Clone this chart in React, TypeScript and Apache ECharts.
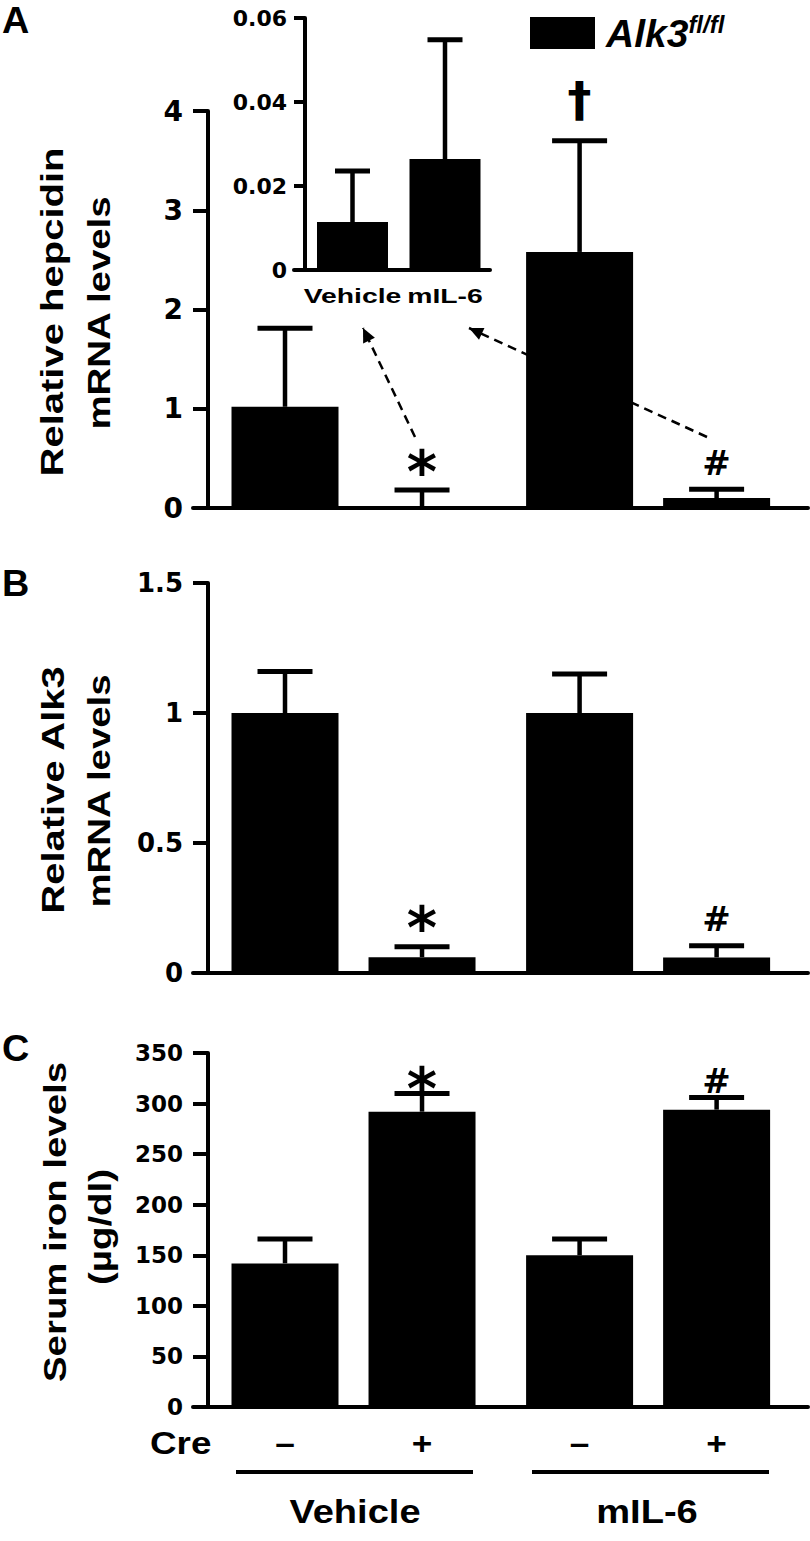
import React, { useEffect, useRef } from 'react';
import * as echarts from 'echarts';

// ---------------- data ----------------
const legendName = 'Alk3';
const creLabels = ['–', '+', '–', '+'];
const groupLabels = ['Vehicle', 'mIL-6'];
const barPos = [1, 2, 3.15, 4.15];

const hepcidinMean = [1.02, 0.011, 2.58, 0.1];
const hepcidinSem = [0.79, 0.17, 1.12, 0.09];
const hepcidinMarks = ['', '*', '†', '#'];

const insetPos = [1, 2];
const insetLabels = ['Vehicle', 'mIL-6'];
const insetMean = [0.0114, 0.0264];
const insetSem = [0.0122, 0.0284];

const alk3Mean = [1.0, 0.061, 1.0, 0.06];
const alk3Sem = [0.16, 0.04, 0.15, 0.045];
const alk3Marks = ['', '*', '', '#'];

const ironMean = [142, 292, 150, 294];
const ironSem = [24, 18, 16, 12];
const ironMarks = ['', '*', '', '#'];

// ---------------- styling ----------------
const TICK_FONT = '"DejaVu Sans", "Liberation Sans", sans-serif';
const ARIAL = '"Liberation Sans", Arial, sans-serif';
const MARK_SIZE: Record<string, number> = { '*': 58, '#': 34, '†': 48 };

const W = 810;
const H = 1541;

function yAxisCfg(gridIndex: number, max: number, interval: number, fontSize: number, offset: number, tickLen: number, margin: number) {
  return {
    type: 'value',
    gridIndex,
    min: 0,
    max,
    interval,
    offset,
    axisLine: { show: true, onZero: false, lineStyle: { color: '#000', width: 4 } },
    axisTick: { show: true, length: tickLen, lineStyle: { color: '#000', width: 4 } },
    axisLabel: {
      color: '#000',
      fontFamily: TICK_FONT,
      fontWeight: 'bold',
      fontSize,
      margin,
    },
    splitLine: { show: false },
  };
}

function xAxisCfg(gridIndex: number, min: number, max: number) {
  return {
    type: 'value',
    gridIndex,
    min,
    max,
    axisLine: { show: true, onZero: false, lineStyle: { color: '#000', width: 4 } },
    axisTick: { show: false },
    axisLabel: { show: false },
    splitLine: { show: false },
  };
}

function txt(text: string, size: number, italic = false, family = ARIAL) {
  return {
    text,
    fill: '#000',
    font: `${italic ? 'italic ' : ''}bold ${size}px ${family}`,
  };
}

function errorSeries(
  axisIndex: number,
  pos: number[],
  mean: number[],
  sem: number[],
  capW: number,
  marks: string[] | null,
  markGap: Record<string, number>,
  below: { labels: string[]; gap: number; size: number; scaleX: number } | null
) {
  return {
    type: 'custom',
    xAxisIndex: axisIndex,
    yAxisIndex: axisIndex,
    z: 3,
    clip: false,
    encode: { x: 0, y: 1 },
    data: pos.map((p, i) => [p, mean[i], sem[i]]),
    renderItem: (params: any, api: any) => {
      const x = api.value(0);
      const m = api.value(1);
      const e = api.value(2);
      const base = api.coord([x, m]);
      const top = api.coord([x, m + e]);
      const zero = api.coord([x, 0]);
      const children: any[] = [
        {
          type: 'line',
          shape: { x1: base[0], y1: base[1], x2: top[0], y2: top[1] },
          style: { stroke: '#000', lineWidth: 4.5 },
        },
        {
          type: 'line',
          shape: { x1: top[0] - capW / 2, y1: top[1], x2: top[0] + capW / 2, y2: top[1] },
          style: { stroke: '#000', lineWidth: 5 },
        },
      ];
      const mk = marks ? marks[params.dataIndex] : '';
      if (mk) {
        children.push({
          type: 'text',
          x: top[0],
          y: top[1] - (markGap[mk] || 20),
          style: {
            ...txt(mk, MARK_SIZE[mk] || 30, false, TICK_FONT),
            align: 'center',
            textAlign: 'center',
            verticalAlign: 'middle',
            textVerticalAlign: 'middle',
          },
        });
      }
      if (below) {
        children.push({
          type: 'text',
          x: zero[0],
          y: zero[1] + below.gap,
          scaleX: below.scaleX,
          style: {
            ...txt(below.labels[params.dataIndex], below.size),
            align: 'center',
            textAlign: 'center',
            verticalAlign: 'middle',
            textVerticalAlign: 'middle',
          },
        });
      }
      return { type: 'group', children };
    },
  };
}

function barSeries(axisIndex: number, pos: number[], mean: number[], width: number, name?: string) {
  return {
    type: 'bar',
    name,
    xAxisIndex: axisIndex,
    yAxisIndex: axisIndex,
    barWidth: width,
    itemStyle: { color: '#000' },
    data: pos.map((p, i) => [p, mean[i]]),
  };
}

function rotText(text: string, x: number, y: number, size: number, scaleX: number) {
  return {
    type: 'text',
    x,
    y,
    rotation: Math.PI / 2,
    scaleX,
    z: 10,
    style: {
      ...txt(text, size),
      align: 'center',
      textAlign: 'center',
      verticalAlign: 'middle',
      textVerticalAlign: 'middle',
    },
  };
}

function plainText(text: string, x: number, y: number, size: number, scaleX: number, align = 'center') {
  return {
    type: 'text',
    x,
    y,
    scaleX,
    z: 10,
    style: {
      ...txt(text, size),
      align,
      textAlign: align,
      verticalAlign: 'middle',
      textVerticalAlign: 'middle',
    },
  };
}

function arrow(x1: number, y1: number, x2: number, y2: number, head: boolean) {
  const els: any[] = [
    {
      type: 'line',
      z: 0,
      shape: { x1, y1, x2, y2 },
      style: { stroke: '#000', lineWidth: 2.5, lineDash: [9, 6] },
    },
  ];
  if (head) {
    const dx = x2 - x1;
    const dy = y2 - y1;
    const len = Math.sqrt(dx * dx + dy * dy);
    const ux = dx / len;
    const uy = dy / len;
    const L = 14;
    const Wd = 6.5;
    const bx = x2 - ux * L;
    const by = y2 - uy * L;
    els.push({
      type: 'polygon',
      z: 0,
      shape: {
        points: [
          [x2, y2],
          [bx - uy * Wd, by + ux * Wd],
          [bx + uy * Wd, by - ux * Wd],
        ],
      },
      style: { fill: '#000' },
    });
  }
  return els;
}

export default function App() {
  const ref = useRef<HTMLDivElement>(null);

  useEffect(() => {
    if (!ref.current) return;
    const chart = echarts.init(ref.current, null, { renderer: 'svg', width: W, height: H });

    const mainMin = 0.3285;
    const mainMax = 4.817;

    const option: any = {
      animation: false,
      backgroundColor: '#fff',
      grid: [
        { left: 193, top: 111, width: 615, height: 397 },
        { left: 294, top: 18, width: 196, height: 252 },
        { left: 193, top: 583, width: 615, height: 390 },
        { left: 193, top: 1053, width: 615, height: 354 },
      ],
      xAxis: [
        xAxisCfg(0, mainMin, mainMax),
        xAxisCfg(1, 0.3676, 2.4865),
        xAxisCfg(2, mainMin, mainMax),
        xAxisCfg(3, mainMin, mainMax),
      ],
      yAxis: [
        yAxisCfg(0, 4, 1, 28, -15, 15, 25),
        yAxisCfg(1, 0.06, 0.02, 22, -11, 11, 18),
        yAxisCfg(2, 1.5, 0.5, 26, -15, 15, 25),
        yAxisCfg(3, 350, 50, 23, -15, 15, 25),
      ],
      legend: {
        data: [legendName],
        left: 525,
        top: 7,
        itemWidth: 65,
        itemHeight: 32,
        icon: 'rect',
        selectedMode: false,
        formatter: () => '{a|Alk3}{s|fl/fl}',
        textStyle: {
          color: '#000',
          rich: {
            a: {
              fontFamily: ARIAL,
              fontStyle: 'italic',
              fontWeight: 'bold',
              fontSize: 39,
              lineHeight: 42,
              color: '#000',
              padding: [0, 0, 0, 6],
              verticalAlign: 'middle',
            },
            s: {
              fontFamily: ARIAL,
              fontStyle: 'italic',
              fontWeight: 'bold',
              fontSize: 24,
              lineHeight: 24,
              color: '#000',
              verticalAlign: 'top',
            },
          },
        },
      },
      series: [
        barSeries(0, barPos, hepcidinMean, 107, legendName),
        errorSeries(0, barPos, hepcidinMean, hepcidinSem, 55, hepcidinMarks, { '*': 18, '#': 26, '†': 42 }, null),
        barSeries(1, insetPos, insetMean, 71),
        errorSeries(1, insetPos, insetMean, insetSem, 35, null, {}, { labels: insetLabels, gap: 25, size: 21, scaleX: 1.35 }),
        barSeries(2, barPos, alk3Mean, 107),
        errorSeries(2, barPos, alk3Mean, alk3Sem, 55, alk3Marks, { '*': 19, '#': 27 }, null),
        barSeries(3, barPos, ironMean, 107),
        errorSeries(3, barPos, ironMean, ironSem, 55, ironMarks, { '*': 4, '#': 17 }, { labels: creLabels, gap: 36, size: 32, scaleX: 1.1 }),
      ],
      graphic: {
        elements: [
          plainText('A', 2, 21, 36, 1.05, 'left'),
          plainText('B', 2, 584, 36, 1.05, 'left'),
          plainText('C', 2, 1049, 36, 1.05, 'left'),
          rotText('Relative hepcidin', 52, 312, 32, 1.25),
          rotText('mRNA levels', 99, 313, 32, 1.2),
          rotText('Relative Alk3', 53, 790, 32, 1.25),
          rotText('mRNA levels', 99, 791, 32, 1.2),
          rotText('Serum iron levels', 55, 1222, 32, 1.2),
          rotText('(µg/dl)', 100, 1227, 32, 1.2),
          ...arrow(415, 437, 363, 328, true),
          ...arrow(707, 437, 469, 328, true),
          plainText('Cre', 150, 1443, 32, 1.15, 'left'),
          {
            type: 'line',
            z: 10,
            shape: { x1: 236, y1: 1472, x2: 473, y2: 1472 },
            style: { stroke: '#000', lineWidth: 4 },
          },
          {
            type: 'line',
            z: 10,
            shape: { x1: 532, y1: 1472, x2: 769, y2: 1472 },
            style: { stroke: '#000', lineWidth: 4 },
          },
          plainText(groupLabels[0], 355, 1511, 34, 1.12),
          plainText(groupLabels[1], 647, 1511, 34, 1.12),
        ],
      },
    };

    chart.setOption(option);
    return () => {
      chart.dispose();
    };
  }, []);

  return (
    <div
      ref={ref}
      style={{ position: 'absolute', left: 0, top: 0, width: W, height: H, background: '#fff' }}
    />
  );
}
